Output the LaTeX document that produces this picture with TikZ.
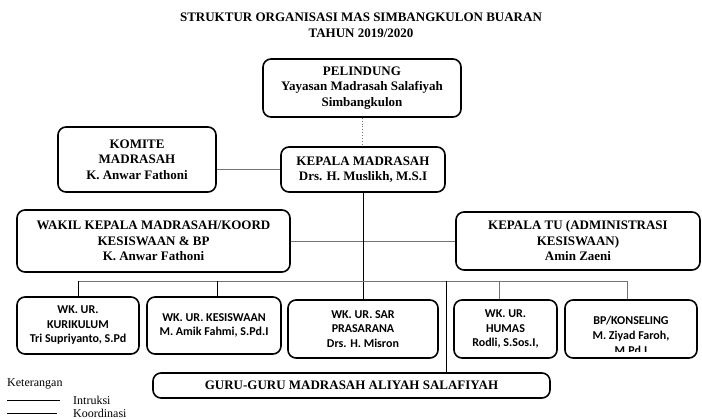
\documentclass[tikz,border=0pt]{standalone}
\usepackage{fontspec}
\setmainfont{Liberation Serif}
\newfontfamily\calibri{Carlito}
\usepackage{tikz}

\begin{document}
\begin{tikzpicture}[x=1pt, y=-1pt,
    upper/.style ={draw, line width=1.6pt, rounded corners=8pt, align=center, inner sep=0pt,
                   font=\bfseries\fontsize{13}{15.5}\selectfont},
    staff/.style ={upper, minimum height=57, font=\calibri\bfseries\fontsize{12}{14.5}\selectfont},
    instr/.style ={draw=black, line width=0.7pt},
    koord/.style ={draw=black!55, line width=0.9pt}]
   \useasboundingbox (0,0) rectangle (702,419);
   \node[font=\bfseries\fontsize{13}{16}\selectfont, align=center] (judul) at (361,25)
      {STRUKTUR ORGANISASI MAS SIMBANGKULON BUARAN\\TAHUN 2019/2020};
   \node[upper, minimum width=198, minimum height=58] (pelindung) at (362,88)
      {PELINDUNG\\Yayasan Madrasah Salafiyah\\Simbangkulon};
   \node[upper, minimum width=158, minimum height=65] (komite) at (137,159.5)
      {KOMITE\\MADRASAH\\K. Anwar Fathoni};
   \node[upper, minimum width=164, minimum height=45] (kepala) at (363,169.5)
      {KEPALA MADRASAH\\Drs. H. Muslikh, M.S.I};
   \node[upper, minimum width=273, minimum height=62] (wakil) at (153.5,241)
      {WAKIL KEPALA MADRASAH/KOORD\\KESISWAAN \& BP\\K. Anwar Fathoni};
   \node[upper, minimum width=244, minimum height=58] (tu) at (578,241)
      {KEPALA TU (ADMINISTRASI\\KESISWAAN)\\Amin Zaeni};
   \node[staff, minimum width=122] (kurikulum) at (78,325.5)
      {WK. UR.\\KURIKULUM\\Tri Supriyanto, S.Pd};
   \node[staff, minimum width=134] (kesiswaan) at (214,325.5)
      {WK. UR. KESISWAAN\\M. Amik Fahmi, S.Pd.I};
   \node[staff, minimum width=150, minimum height=58] (sar) at (363,329)
      {WK. UR. SAR\\PRASARANA\\Drs. H. Misron};
   \node[staff, minimum width=103, minimum height=58] (humas) at (505.5,329)
      {WK. UR.\\HUMAS\\Rodli, S.Sos.I,};
   \node[staff, minimum width=132, minimum height=58,
         path picture={
           \clip ([yshift=6pt]path picture bounding box.south west) rectangle (path picture bounding box.north east);
           \node[draw=none, fill=none, align=center, inner sep=0pt, font=\calibri\bfseries\fontsize{12}{15}\selectfont]
              (bptext) at ([yshift=-6pt]path picture bounding box.center) {BP/KONSELING\\M. Ziyad Faroh,\\M.Pd.I};
         }] (bp) at (631,329) {};
   \node[upper, minimum width=397, minimum height=25] (guru) at (351.5,385.5)
      {GURU-GURU MADRASAH ALIYAH SALAFIYAH};

   \coordinate (bus) at (0,281);
   \coordinate (gurutap) at (446,281);
   \draw[koord, dotted] (pelindung.south) -- (pelindung.south |- kepala.north);
   \draw[koord] (kepala.west) -- (kepala.west -| komite.east);
   \draw[koord] (wakil.east) -- (tu.west);
   \draw[instr] (kepala.south) -- (sar.north);
   \draw[koord] (kurikulum.north |- bus) -- ([xshift=-4pt]bp.north |- bus);
   \draw[instr] (kurikulum.north) -- (kurikulum.north |- bus);
   \draw[instr] ([xshift=3pt]kesiswaan.north) -- ([xshift=3pt]kesiswaan.north |- bus);
   \draw[koord] ([xshift=-6.5pt]humas.north) -- ([xshift=-6.5pt]humas.north |- bus);
   \draw[koord] ([xshift=-4pt]bp.north) -- ([xshift=-4pt]bp.north |- bus);
   \draw[instr] (gurutap) -- (gurutap |- guru.north);

   \node[anchor=west, font=\fontsize{12}{14}\selectfont, inner sep=0pt] (ket) at (7,384) {Keterangan};
   \node[anchor=west, font=\fontsize{12}{14}\selectfont, inner sep=0pt] (intruksi) at (73,400) {Intruksi};
   \node[anchor=west, font=\fontsize{12}{14}\selectfont, inner sep=0pt] (koordinasi) at (73,413) {Koordinasi};
   \draw[instr] (7,400) -- (60,400);
   \draw[instr] (7,413) -- (57,413);
 \end{tikzpicture}
\end{document}
